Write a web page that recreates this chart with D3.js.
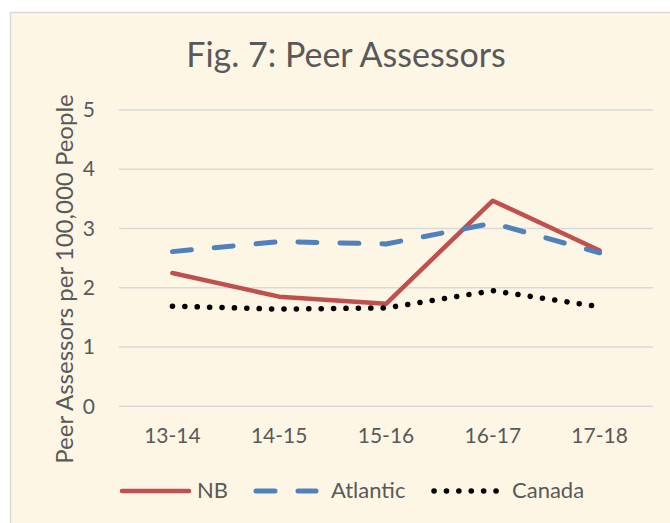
<!DOCTYPE html>
<html>
<head>
<meta charset="utf-8">
<script src="https://cdn.jsdelivr.net/npm/d3@7"></script>
<style>
	html, body { margin: 0; padding: 0; background: #fff; }
	svg { display: block; font-family: Lato, "Open Sans", sans-serif; }
</style>
</head>
<body>
<svg id="chart"></svg>
<script>
// peer assessors chart

const years = ["13-14", "14-15", "15-16", "16-17", "17-18"];
const nbValues = [2.25, 1.85, 1.73, 3.47, 2.63];
const atlanticValues = [2.61, 2.78, 2.74, 3.09, 2.59];
const canadaValues = [1.69, 1.64, 1.66, 1.95, 1.68];
const yTicks = [0, 1, 2, 3, 4, 5];

const width = 670, height = 523;
const plot = { left: 119, right: 653, top: 110, bottom: 406.3 };
const fontFamily = "Lato, 'Open Sans', sans-serif";
const textColor = "#595959";

const svg = d3.select("#chart")
	.attr("width", width)
	.attr("height", height)
	.attr("viewBox", `0 0 ${width} ${height}`);

// chart area frame (runs off the right and bottom edge)
svg.append("rect")
	.attr("x", 10.5)
	.attr("y", 12.5)
	.attr("width", 700)
	.attr("height", 600)
	.attr("fill", "#FEF6E5")
	.attr("stroke", "#D9D9D9")
	.attr("stroke-width", 1.5);

const x = d3.scaleBand()
	.domain(years)
	.range([plot.left, plot.right]);

const y = d3.scaleLinear()
	.domain([0, 5])
	.range([plot.bottom, plot.top]);

// gridlines
svg.append("g")
	.selectAll("line")
	.data(yTicks)
	.join("line")
	.attr("x1", plot.left)
	.attr("x2", plot.right)
	.attr("y1", d => y(d))
	.attr("y2", d => y(d))
	.attr("stroke", "#D9D9D9")
	.attr("stroke-width", 1.5);

// y axis labels
const yAxis = svg.append("g")
	.attr("transform", `translate(${plot.left - 12},0)`)
	.call(d3.axisLeft(y).tickValues(yTicks).tickFormat(d3.format("d")).tickSize(0).tickPadding(12));
yAxis.select(".domain").remove();
yAxis.selectAll("text")
	.attr("text-anchor", "end")
	.attr("fill", textColor)
	.attr("font-size", 21)
	.attr("font-family", fontFamily);

// x axis labels
const xAxis = svg.append("g")
	.attr("transform", `translate(0,${plot.bottom + 22})`)
	.call(d3.axisBottom(x).tickSize(0).tickPadding(0));
xAxis.select(".domain").remove();
xAxis.selectAll("text")
	.attr("text-anchor", "middle")
	.attr("fill", textColor)
	.attr("font-size", 21)
	.attr("font-family", fontFamily);

// titles
svg.append("text")
	.attr("x", 346)
	.attr("y", 67)
	.attr("text-anchor", "middle")
	.attr("fill", textColor)
	.attr("font-size", 34)
	.text("Fig. 7: Peer Assessors");

svg.append("text")
	.attr("transform", "translate(73,279) rotate(-90)")
	.attr("text-anchor", "middle")
	.attr("fill", textColor)
	.attr("font-size", 24)
	.text("Peer Assessors per 100,000 People");

const series = [
	{ name: "NB", values: nbValues, color: "#C0504D", dash: null, width: 4.5, cap: "round" },
	{ name: "Atlantic", values: atlanticValues, color: "#4F81BD", dash: "19,23", width: 5, cap: "round" },
	{ name: "Canada", values: canadaValues, color: "#000000", dash: "0.1,12.3", width: 5.5, cap: "round" }
];

const line = d3.line()
	.x((d, i) => x(years[i]) + x.bandwidth() / 2)
	.y(d => y(d));

svg.append("g")
	.selectAll("path")
	.data(series)
	.join("path")
	.attr("d", d => line(d.values))
	.attr("fill", "none")
	.attr("stroke", d => d.color)
	.attr("stroke-width", d => d.width)
	.attr("stroke-dasharray", d => d.dash)
	.attr("stroke-linecap", d => d.cap)
	.attr("stroke-linejoin", "round");

// legend
const legendY = 491;
const legendItems = [
	{ s: series[0], x1: 122, x2: 189, tx: 197 },
	{ s: series[1], x1: 256, x2: 316, tx: 331 },
	{ s: series[2], x1: 434, x2: 500, tx: 512 }
];

const legend = svg.append("g");
legend.selectAll("line")
	.data(legendItems)
	.join("line")
	.attr("x1", d => d.x1)
	.attr("x2", d => d.x2)
	.attr("y1", legendY)
	.attr("y2", legendY)
	.attr("stroke", d => d.s.color)
	.attr("stroke-width", d => d.s.width)
	.attr("stroke-dasharray", d => d.s.dash)
	.attr("stroke-linecap", d => d.s.cap);

legend.selectAll("text")
	.data(legendItems)
	.join("text")
	.attr("x", d => d.tx)
	.attr("y", legendY + 7)
	.attr("fill", textColor)
	.attr("font-size", 22)
	.text(d => d.s.name);
</script>
</body>
</html>
